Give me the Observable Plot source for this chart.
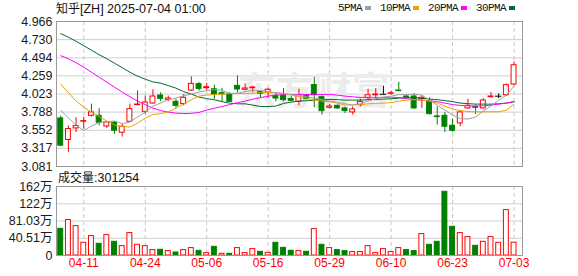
<!DOCTYPE html>
<html><head><meta charset="utf-8">
<script src="https://cdn.jsdelivr.net/npm/d3@7"></script>
<script src="https://cdn.jsdelivr.net/npm/@observablehq/plot@0.6"></script>
<style>
body{margin:0;background:#fff;}
#wrap{position:relative;width:578px;height:276px;overflow:hidden;font-family:"Liberation Sans","Noto Sans CJK SC",sans-serif;color:#111;}
#wrap svg{position:absolute;left:0;}
.lbl{position:absolute;white-space:nowrap;line-height:14px;z-index:2;}
#title{left:56px;top:1px;font-size:12.5px;}
#legend{left:338px;top:1px;display:flex;align-items:center;font-family:"Liberation Mono",monospace;font-size:11px;letter-spacing:-0.6px;}
#legend .sw{display:inline-block;width:6px;height:4px;margin:0 9px 0 3px;}
#vlabel{left:58px;top:170px;font-size:12.5px;}
</style></head>
<body><div id="wrap">
<div id="title" class="lbl"></div>
<div id="legend" class="lbl"></div>
<div id="vlabel" class="lbl"></div>
</div>
<script>
const stockName = "知乎[ZH]";
const timeStamp = "2025-07-04 01:00";
const dates = ["04-08","04-09","04-10","04-11","04-14","04-15","04-16","04-17","04-21","04-22",
"04-23","04-24","04-25","04-28","04-29","04-30","05-01","05-02","05-05","05-06",
"05-07","05-08","05-09","05-12","05-13","05-14","05-15","05-16","05-19","05-20",
"05-21","05-22","05-23","05-27","05-28","05-29","05-30","06-02","06-03","06-04",
"06-05","06-06","06-09","06-10","06-11","06-12","06-13","06-16","06-17","06-18",
"06-20","06-23","06-24","06-25","06-26","06-27","06-30","07-01","07-02","07-03"];
const open = [3.706,3.425,3.576,3.663,3.740,3.740,3.602,3.650,3.520,3.663,
3.879,3.792,3.900,4.004,3.948,3.922,3.892,4.069,4.151,4.099,
4.085,4.035,4.017,4.129,4.078,4.099,4.047,4.039,3.999,3.999,
3.957,3.922,3.999,4.140,3.982,3.844,3.870,3.836,3.784,3.879,
3.974,4.008,4.020,4.026,4.069,3.991,3.991,3.957,3.922,3.732,
3.740,3.611,3.641,3.836,3.853,3.836,3.982,3.995,4.008,4.147];
const high = [3.736,3.607,3.715,3.719,3.892,3.831,3.667,3.667,3.632,3.892,
4.065,3.999,4.078,4.039,3.995,3.952,4.017,4.246,4.173,4.164,
4.138,4.095,4.043,4.259,4.155,4.125,4.060,4.099,4.039,4.095,
3.991,4.086,4.017,4.240,3.999,3.887,3.879,3.853,3.857,3.957,
4.086,4.095,4.125,4.060,4.177,4.008,4.026,3.999,3.974,3.857,
3.784,3.697,3.801,3.957,3.879,3.965,4.043,4.026,4.155,4.440];
const low = [3.339,3.265,3.524,3.568,3.723,3.611,3.576,3.498,3.464,3.654,
3.870,3.758,3.892,3.922,3.922,3.836,3.870,4.060,4.060,4.069,
3.952,3.922,3.913,4.039,4.065,4.039,3.978,3.965,3.922,3.922,
3.922,3.870,3.948,3.845,3.749,3.827,3.823,3.771,3.749,3.857,
3.944,3.965,4.020,4.008,4.060,3.965,3.827,3.836,3.749,3.620,
3.524,3.524,3.598,3.827,3.758,3.827,3.974,3.965,3.991,4.129];
const close = [3.352,3.568,3.607,3.671,3.784,3.650,3.654,3.546,3.598,3.827,
3.887,3.913,3.991,3.961,3.965,3.870,3.974,4.155,4.090,4.112,
4.010,4.020,3.922,4.082,4.095,4.108,4.026,4.078,3.965,3.944,
3.935,4.008,3.957,4.008,3.801,3.861,3.836,3.801,3.823,3.918,
4.008,4.017,4.020,4.034,4.060,3.978,3.836,3.974,3.762,3.723,
3.598,3.546,3.784,3.870,3.844,3.939,3.991,3.995,4.138,4.397];
const ma5 = [3.814,3.711,3.620,3.548,3.607,3.652,3.665,3.672,3.639,3.659,
3.724,3.788,3.866,3.905,3.950,3.970,4.002,4.022,4.048,4.067,
4.080,4.074,4.029,4.035,4.054,4.074,4.067,4.054,4.041,4.029,
4.015,4.009,3.989,3.970,3.950,3.931,3.918,3.898,3.879,3.898,
3.931,3.963,3.983,3.996,4.015,4.015,4.022,4.009,3.944,3.879,
3.814,3.750,3.704,3.698,3.724,3.801,3.866,3.944,4.009,4.126];
const ma10 = [4.152,4.041,3.931,3.853,3.788,3.730,3.672,3.620,3.600,3.594,
3.646,3.711,3.756,3.769,3.788,3.840,3.892,3.950,3.996,4.009,
4.018,4.022,4.029,4.031,4.031,4.035,4.039,4.041,4.041,4.029,
4.009,3.989,3.970,3.944,3.931,3.922,3.905,3.879,3.883,3.888,
3.896,3.901,3.905,3.911,3.931,3.944,3.950,3.944,3.931,3.905,
3.866,3.827,3.808,3.795,3.792,3.792,3.792,3.792,3.814,3.892];
const ma20 = [4.521,4.482,4.430,4.372,4.307,4.242,4.177,4.113,4.048,3.989,
3.931,3.886,3.840,3.808,3.788,3.775,3.769,3.772,3.784,3.814,
3.840,3.860,3.886,3.911,3.931,3.957,3.976,3.996,4.009,4.015,
4.018,4.018,4.018,4.018,4.018,4.018,4.009,3.996,3.987,3.979,
3.974,3.974,3.979,3.983,3.976,3.963,3.950,3.944,3.937,3.924,
3.905,3.886,3.875,3.870,3.866,3.870,3.879,3.892,3.905,3.927];
const ma30 = [4.809,4.761,4.709,4.651,4.593,4.534,4.482,4.424,4.366,4.307,
4.255,4.216,4.181,4.165,4.132,4.100,4.054,4.022,3.983,3.963,
3.948,3.924,3.905,3.896,3.896,3.879,3.860,3.860,3.866,3.901,
3.918,3.931,3.937,3.944,3.953,3.953,3.950,3.944,3.944,3.944,
3.950,3.953,3.957,3.961,3.970,3.976,3.976,3.970,3.957,3.950,
3.937,3.924,3.905,3.898,3.892,3.892,3.892,3.896,3.905,3.922];
const volume = [627000,832000,690000,298000,455000,275000,479000,322000,220000,526000,
251000,220000,127000,134000,103000,70000,127000,174000,110000,56000,
204000,40000,40000,174000,56000,150000,87000,63000,298000,180000,
110000,103000,87000,620000,251000,174000,127000,103000,80000,80000,
220000,56000,150000,80000,174000,127000,103000,503000,251000,322000,
1496000,674000,526000,432000,228000,322000,432000,298000,1066000,301254];
const priceTicks = [3.081,3.317,3.552,3.788,4.023,4.259,4.494,4.730,4.966];
const volTicks = [0,405125,810250,1215375,1620500];
const volTickLabels = ["0","40.51万","81.03万","122万","162万"];
const dateTicks = ["04-11","04-24","05-06","05-16","05-29","06-10","06-23","07-03"];
const maNames = ["5PMA","10PMA","20PMA","30PMA"];
const maColors = ["#a0a0a0","#f0a000","#ff00ff","#006b33"];
const volLabel = "成交量";

const RED = "#ff0000", GREEN = "#008000", BLACK = "#000000";
const rows = dates.map((d, i) => {
  const dir = close[i] > open[i] ? 1 : close[i] < open[i] ? -1 : 0;
  const vup = i === 0 ? dir >= 0 : close[i] >= close[i - 1];
  return {i, date: d, open: open[i], high: high[i], low: low[i], close: close[i],
    ma5: ma5[i], ma10: ma10[i], ma20: ma20[i], ma30: ma30[i], vol: volume[i],
    col: dir > 0 ? RED : dir < 0 ? GREEN : BLACK,
    bodyFill: dir > 0 ? "#ffffff" : dir < 0 ? GREEN : BLACK,
    vcol: vup ? RED : GREEN, vfill: vup ? "#ffffff" : GREEN};
});
const tickIdx = dateTicks.map(t => dates.indexOf(t));
const hw = 0.32;
const xDomain = [-0.55, dates.length + 0.1];
const fontFam = "'Liberation Sans','Noto Sans CJK SC',sans-serif";
const baseStyle = {background: "transparent", fontFamily: fontFam, fontSize: "12.5px", overflow: "visible", color: "#111"};

document.getElementById("title").innerHTML =
  `<span style="font-family:'Noto Sans CJK SC';font-size:12px">${stockName.slice(0,2)}</span>${stockName.slice(2)} ${timeStamp}`;
document.getElementById("legend").innerHTML = maNames.map((n, k) =>
  `<span>${n}</span><span class="sw" style="background:${maColors[k]}"></span>`).join("");
document.getElementById("vlabel").innerHTML =
  `<span style="font-family:'Noto Sans CJK SC';font-size:12px">${volLabel}</span>:${volume[volume.length-1]}`;

const mainPlot = Plot.plot({
  width: 578, height: 174,
  marginLeft: 56, marginRight: 56, marginTop: 21, marginBottom: 8,
  x: {domain: xDomain, axis: null},
  y: {domain: [priceTicks[0], priceTicks[priceTicks.length - 1]], axis: null},
  color: {type: "identity"},
  style: baseStyle,
  marks: [
    Plot.ruleY(priceTicks, {stroke: "#cfcfcf"}),
    Plot.ruleX(tickIdx, {stroke: "#c8c8c8", strokeDasharray: "4,3"}),
    Plot.text(["东方财富"], {frameAnchor: "middle", dx: 24, dy: -2, fill: "#ececec", fontSize: 38, fontWeight: "bold", fontFamily: "'Noto Sans CJK SC'"}),
    Plot.ruleX(rows, {x: "i", y1: "low", y2: "high", stroke: "col"}),
    Plot.rect(rows.filter(d => d.open !== d.close), {x1: d => d.i - hw, x2: d => d.i + hw, y1: "open", y2: "close", fill: "bodyFill", stroke: "col"}),
    Plot.ruleY(rows.filter(d => d.open === d.close), {y: "close", x1: d => d.i - hw - 0.1, x2: d => d.i + hw + 0.1, stroke: "col"}),
    Plot.line(rows, {x: "i", y: "ma30", stroke: maColors[3], strokeWidth: 1}),
    Plot.line(rows, {x: "i", y: "ma20", stroke: maColors[2], strokeWidth: 1}),
    Plot.line(rows, {x: "i", y: "ma10", stroke: maColors[1], strokeWidth: 1}),
    Plot.line(rows, {x: "i", y: "ma5", stroke: maColors[0], strokeWidth: 1}),
    Plot.frame({stroke: "#9a9a9a"}),
    Plot.text(priceTicks, {y: d => d, frameAnchor: "left", textAnchor: "end", dx: -4, text: d => d3.format(".3f")(d), fill: "#1a1a1a", fontSize: 12.5})
  ]
});
mainPlot.style.top = "0px";

const volPlot = Plot.plot({
  width: 578, height: 102,
  marginLeft: 56, marginRight: 56, marginTop: 12, marginBottom: 21,
  x: {domain: xDomain, axis: null},
  y: {domain: [volTicks[0], volTicks[volTicks.length - 1]], axis: null},
  color: {type: "identity"},
  style: baseStyle,
  marks: [
    Plot.ruleY(volTicks, {stroke: "#cfcfcf"}),
    Plot.ruleX(tickIdx, {stroke: "#c8c8c8", strokeDasharray: "4,3"}),
    Plot.rect(rows, {x1: d => d.i - hw, x2: d => d.i + hw, y1: 0, y2: "vol", fill: "vfill", stroke: "vcol"}),
    Plot.frame({stroke: "#9a9a9a"}),
    Plot.text(volTicks, {y: d => d, frameAnchor: "left", textAnchor: "end", dx: -4, text: (d, k) => volTickLabels[k], fill: "#1a1a1a", fontSize: 12.5}),
    Plot.text(tickIdx, {x: d => d, frameAnchor: "bottom", dy: 11, text: d => dates[d], fill: RED, fontSize: 12})
  ]
});
volPlot.style.top = "174px";

const wrap = document.getElementById("wrap");
wrap.appendChild(mainPlot);
wrap.appendChild(volPlot);
</script>
</body></html>
